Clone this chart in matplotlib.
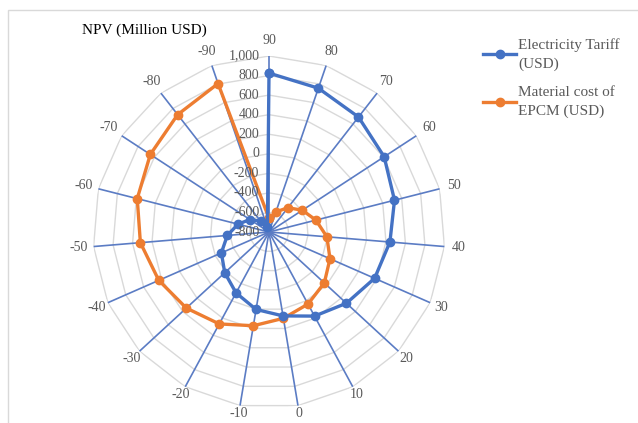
import matplotlib.pyplot as plt
import numpy as np
from matplotlib.patches import Rectangle

plt.rcParams['font.family'] = ['Liberation Serif', 'DejaVu Serif']

# Sensitivity angle (category) and NPV for each series
categories = [90, 80, 70, 60, 50, 40, 30, 20, 10, 0,
              -10, -20, -30, -40, -50, -60, -70, -80, -90]
tariff = [825, 755, 690, 607, 524, 441, 379, 276, 178, 70,
          3, -92, -185, -268, -372, -473, -567, -659, -750]
epcm = [-660, -583, -485, -393, -305, -206, -119, -31, 38, 95,
        172, 269, 349, 431, 520, 590, 650, 721, 805]
r_ticks = [-800, -600, -400, -200, 0, 200, 400, 600, 800, 1000]
r_labels = ["-800", "-600", "-400", "-200", "0", "200", "400", "600", "800", "1,000"]

blue = "#4472C4"
orange = "#ED7D31"
grey_txt = "#595959"

n = len(categories)
theta = np.arange(n) * 2 * np.pi / n
theta_c = np.append(theta, theta[0])

fig = plt.figure(figsize=(6.38, 4.23), dpi=100)

# chart area border
fig.patches.append(Rectangle((8 / 638, -0.05), 1.0, 1 - 10 / 423 + 0.05,
                             transform=fig.transFigure, fill=False,
                             edgecolor="#D9D9D9", linewidth=1.0))

R = 176  # plot radius in pixels
cx, cy = 269, 232
ax = fig.add_axes([(cx - R) / 638, (423 - cy - R) / 423, 2 * R / 638, 2 * R / 423],
                  projection="polar")
ax.set_theta_zero_location("N")
ax.set_theta_direction(-1)
ax.set_ylim(-800, 1000)
ax.grid(False)
ax.spines["polar"].set_visible(False)
ax.set_xticks([])
ax.set_yticks([])
ax.patch.set_alpha(0)

# polygon gridlines
for lev in r_ticks[1:]:
    ax.plot(theta_c, [lev] * (n + 1), color="#D9D9D9", lw=1.0, zorder=1)

# spokes
for t in theta:
    ax.plot([t, t], [-800, 1000], color="#5B7CC4", lw=1.2, zorder=2)

ax.plot(theta_c, np.append(tariff, tariff[0]), color=blue, lw=2.4,
        marker="o", ms=6, zorder=4, label="Electricity Tariff\n(USD)")
ax.plot(theta_c, np.append(epcm, epcm[0]), color=orange, lw=2.4,
        marker="o", ms=6, zorder=3, label="Material cost of\nEPCM (USD)")

# category labels around the outside, a little closer at the bottom
for t, c in zip(theta, categories):
    d = 11 - 5 * max(0.0, -np.cos(t))
    ax.annotate(str(c), xy=(t, 1000), xytext=(d * np.sin(t), d * np.cos(t)),
                textcoords="offset points", ha="center", va="center",
                fontsize=10, color=grey_txt, annotation_clip=False)

# radial value labels along the top spoke
for v, lab in zip(r_ticks, r_labels):
    ax.annotate(lab, xy=(0, v), xytext=(-7, 0), textcoords="offset points",
                ha="right", va="center", fontsize=10, color=grey_txt, zorder=5)

fig.text(82 / 638, 1 - 30 / 423, "NPV (Million USD)", fontsize=11,
         color="black", ha="left", va="center")

leg = fig.legend(loc="upper left", bbox_to_anchor=(469 / 638, 1 - 24 / 423),
                 frameon=False, fontsize=11, handlelength=2.2, labelspacing=0.95,
                 handletextpad=0.1, labelcolor=grey_txt)
for txt in leg.get_texts():
    txt.set_linespacing(1.6)

fig.savefig("out.png", dpi=100)
